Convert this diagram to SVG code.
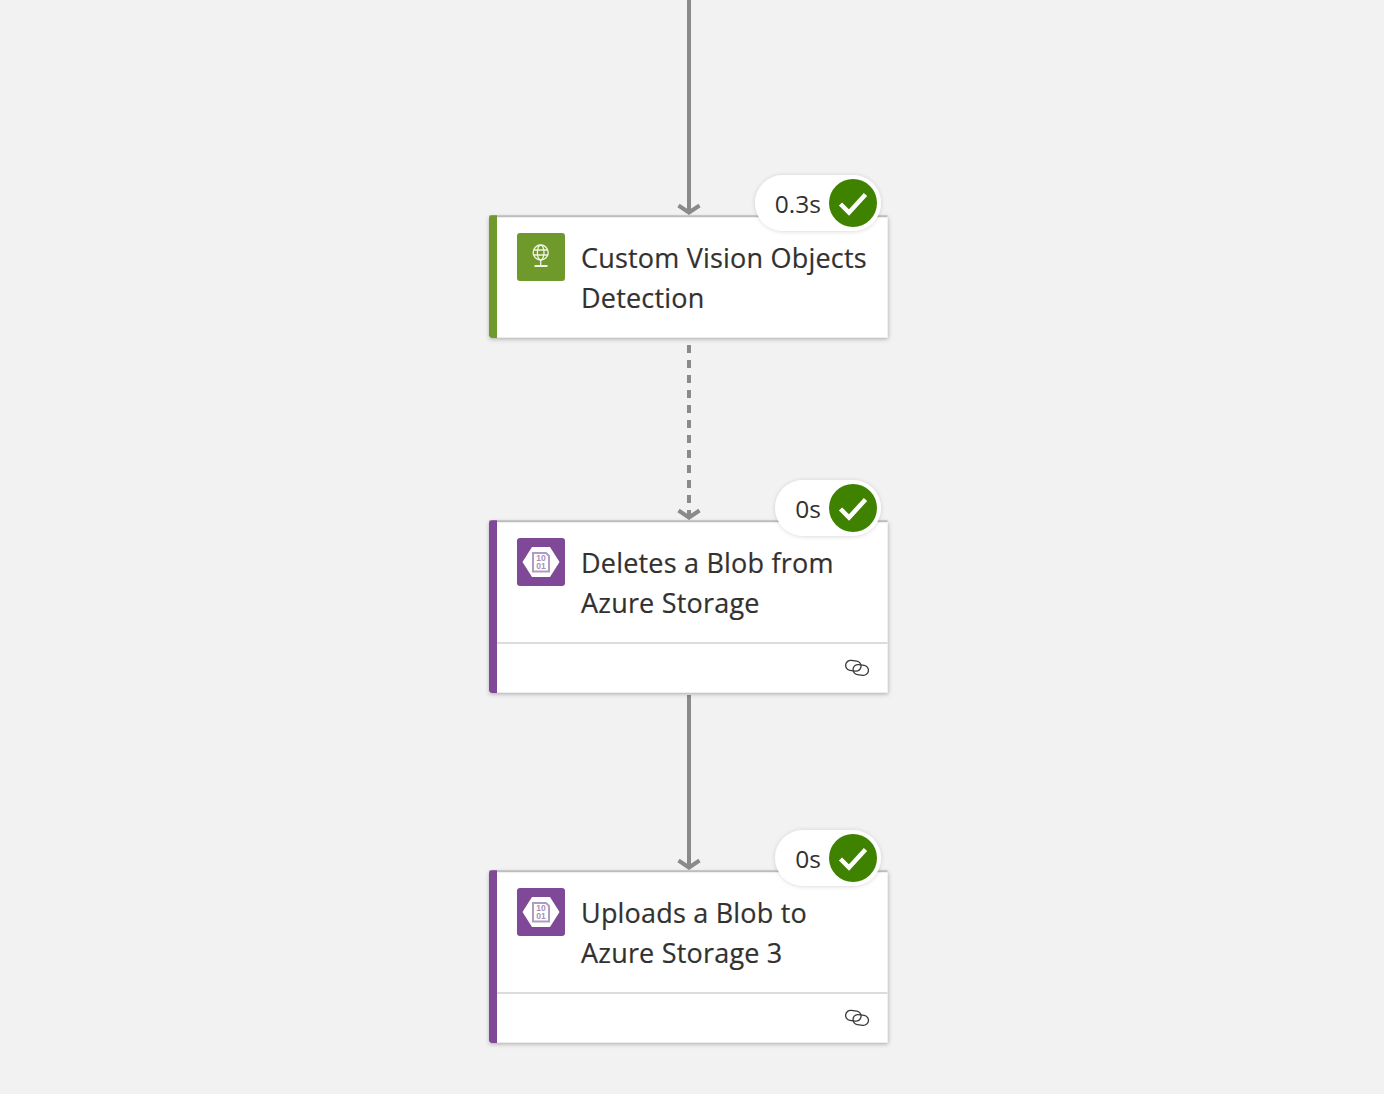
<svg xmlns="http://www.w3.org/2000/svg" width="1384" height="1094" viewBox="0 0 1384 1094">
<style>
.card{fill:#fff;filter:url(#sh)}
.top{stroke:#bdbdbd;stroke-width:2;fill:none}
.div{stroke:#dcdcdc;stroke-width:2;fill:none}
.t{font-family:"Open Sans","Noto Sans","Liberation Sans",sans-serif;font-size:27px;letter-spacing:.2px;fill:#323130;stroke:#323130;stroke-width:.2}
.d{font-family:"Open Sans","Noto Sans","Liberation Sans",sans-serif;font-size:24.500px;fill:#323130;text-anchor:end}
.pill{fill:#fff;filter:url(#ps)}
.c{stroke:#8a8a8a;stroke-width:4;fill:none}
.ok{fill:none;stroke:#fff;stroke-width:4.500}
.ic{fill:none;stroke:#f0f4e4;stroke-width:1.300}
.ib{fill:none;stroke:#b09cc0;stroke-width:2}
.bt{font-family:"Liberation Sans",sans-serif;font-size:8.500px;font-weight:700;fill:#a98fbb;text-anchor:middle}
.lk{fill:none;stroke:#3b3a39;stroke-width:1.300}
</style>
<defs>
<filter id="sh" x="-5%" y="-10%" width="110%" height="120%"><feDropShadow dx="0.500" dy="1.500" stdDeviation="2" flood-color="#000" flood-opacity=".3"/></filter>
<filter id="ps" x="-20%" y="-30%" width="140%" height="160%"><feDropShadow dx="0" dy="0.500" stdDeviation="2" flood-color="#000" flood-opacity=".16"/></filter>
<marker id="ah" markerUnits="userSpaceOnUse" markerWidth="30" markerHeight="30" refX="15" refY="15" orient="auto" viewBox="0 0 30 30"><path d="M7.500 4.500 L14.500 15 L7.500 25.500" fill="none" stroke="#8a8a8a" stroke-width="4"/></marker>
<g id="check"><circle cx="0" cy="0" r="24" fill="#3f8200"/><path class="ok" d="M-12.500 1 L-4 9.500 L12.500 -8.500"/></g>
<g id="hex"><rect x="0" y="0" width="48" height="48" rx="3" fill="#804998"/><path d="M15 9 H33 L42.500 24 L33 39 H15 L5.500 24 Z" fill="#fff"/><path class="ib" d="M16 15 H29 L32 18 V33.500 H16 Z"/><text class="bt" x="24" y="23">10</text><text class="bt" x="24" y="31">01</text></g>
<g id="link"><rect class="lk" x="0.700" y="0.700" width="15.500" height="10" rx="5" transform="rotate(8 8 5)"/><rect class="lk" x="8" y="5" width="15.500" height="10" rx="5" transform="rotate(8 16 10)"/></g>
</defs>
<rect width="1384" height="1094" fill="#f2f2f2"/>
<g id="connectors">
<path class="c" d="M689 0 V213" marker-end="url(#ah)"/>
<path class="c" d="M689 345 V518" stroke-dasharray="8 7" marker-end="url(#ah)"/>
<path class="c" d="M689 695 V868" marker-end="url(#ah)"/>
</g>
<g id="node-custom-vision">
<rect class="card" x="489" y="216" width="398.500" height="121.500"/>
<path class="top" d="M489 216.300 H887.500"/>
<path d="M497 215.300 H492 Q489 215.300 489 218.300 V335 Q489 338 492 338 H497 Z" fill="#70992b"/>
<rect x="517" y="233" width="48" height="48" rx="3" fill="#70992b"/>
<g class="ic"><circle cx="540.700" cy="252.500" r="7.500"/><ellipse cx="540.700" cy="252.500" rx="3.300" ry="7.500"/><path d="M533.500 250 H548 M533.500 255 H548 M540.700 260 V265"/></g>
<path d="M534.500 265 H547.500 V267 H534.500 Z" fill="#f0f4e4"/>
<text class="t" x="581" y="268">Custom Vision Objects</text>
<text class="t" x="581" y="308">Detection</text>
<rect class="pill" x="755" y="175" width="126" height="56" rx="28"/>
<text class="d" x="821" y="213">0.3s</text>
<use href="#check" x="853" y="203"/>
</g>
<g id="node-delete-blob">
<rect class="card" x="489" y="521" width="398.500" height="171.500"/>
<path class="top" d="M489 521.300 H887.500"/>
<path d="M497 520.300 H492 Q489 520.300 489 523.300 V690 Q489 693 492 693 H497 Z" fill="#804998"/>
<path class="div" d="M497 643 H887.500"/>
<use href="#hex" x="517" y="538"/>
<text class="t" x="581" y="573">Deletes a Blob from</text>
<text class="t" x="581" y="613">Azure Storage</text>
<use href="#link" x="845" y="660"/>
<rect class="pill" x="775" y="480" width="106" height="56" rx="28"/>
<text class="d" x="821" y="518">0s</text>
<use href="#check" x="853" y="508"/>
</g>
<g id="node-upload-blob">
<rect class="card" x="489" y="871" width="398.500" height="171.500"/>
<path class="top" d="M489 871.300 H887.500"/>
<path d="M497 870.300 H492 Q489 870.300 489 873.300 V1040 Q489 1043 492 1043 H497 Z" fill="#804998"/>
<path class="div" d="M497 993 H887.500"/>
<use href="#hex" x="517" y="888"/>
<text class="t" x="581" y="923">Uploads a Blob to</text>
<text class="t" x="581" y="963">Azure Storage 3</text>
<use href="#link" x="845" y="1010"/>
<rect class="pill" x="775" y="830" width="106" height="56" rx="28"/>
<text class="d" x="821" y="868">0s</text>
<use href="#check" x="853" y="858"/>
</g>
</svg>
